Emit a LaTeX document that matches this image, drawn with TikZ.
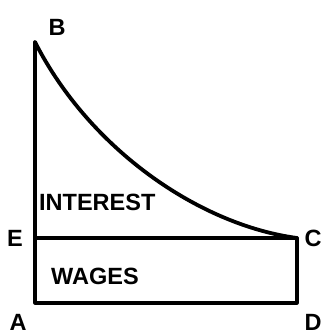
\documentclass[tikz,border=0pt]{standalone}
\usepackage{fontspec}
\setmainfont{Liberation Sans}
\usetikzlibrary{positioning}

\begin{document}
\begin{tikzpicture}[x=1pt,y=-1pt,line cap=round,line join=round,
  lbl/.style={font=\fontsize{23.5}{23.5}\selectfont\bfseries,inner sep=0pt}]
\useasboundingbox (0,0) rectangle (324,336);
\coordinate (A) at (35,303);
\coordinate (B) at (35,42);
\coordinate (E) at (35,238);
\coordinate (C) at (297,238);
\coordinate (D) at (297,303);
% rectangle and left side
\draw[line width=3.2pt] (B) -- (A) -- (D) -- (C) -- (E);
% curve
\draw[line width=3.8pt] (B) .. controls (90,150) and (200,225) .. (C);
% labels
\node[lbl] (lB) at (57,27) {B};
\node[lbl] (lE) at (15,238) {E};
\node[lbl] (lC) at (313,238) {C};
\node[lbl] (lA) at (18,322) {A};
\node[lbl] (lD) at (313,322) {D};
\node[lbl,anchor=west] (interest) at (39,202) {INTEREST};
\node[lbl,anchor=west] (wages) at (51,276) {WAGES};
\end{tikzpicture}
\end{document}
